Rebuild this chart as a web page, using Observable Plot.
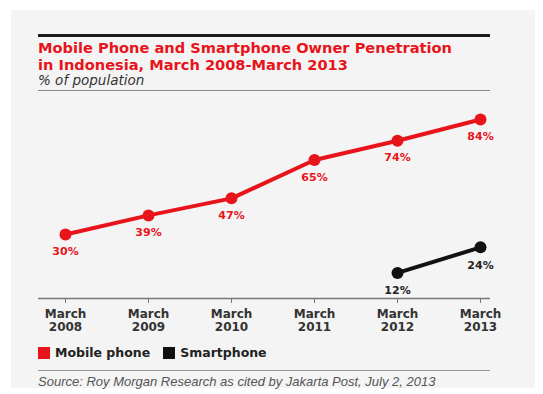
<!DOCTYPE html>
<html>
<head>
<meta charset="utf-8">
<script src="https://cdn.jsdelivr.net/npm/d3@7"></script>
<script src="https://cdn.jsdelivr.net/npm/@observablehq/plot@0.6"></script>
<style>
  html, body { margin: 0; padding: 0; background: #fff; }
  #wrap { position: relative; width: 543px; height: 394px; overflow: hidden; font-family: "DejaVu Sans", sans-serif; }
  #panel { position: absolute; left: 11px; top: 10px; width: 524px; height: 378px; background: #f4f4f4; }
  .rule { position: absolute; left: 38px; width: 452px; }
  #title { position: absolute; left: 38px; top: 39px; color: #e8141b; font-weight: bold; font-size: 14.6px; line-height: 17px; white-space: nowrap; }
  #subtitle { position: absolute; left: 38px; top: 73px; color: #333; font-style: italic; font-size: 13.5px; line-height: 15px; }
  #chart { position: absolute; left: 0; top: 99px; }
  #legend { position: absolute; left: 38px; top: 345px; font-size: 12.5px; font-weight: bold; color: #222; display: flex; align-items: center; white-space: nowrap; }
  #legend .sw { display: inline-block; width: 12px; height: 12px; margin-right: 5px; }
  #source { position: absolute; left: 38px; top: 374px; font-family: "Liberation Sans", Arial, sans-serif; font-size: 13px; font-style: italic; color: #555; white-space: nowrap; }
</style>
</head>
<body>
<div id="wrap">
  <div id="panel"></div>
  <div class="rule" style="top:34px;height:3px;background:#1a1a1a;"></div>
  <div id="title">Mobile Phone and Smartphone Owner Penetration<br>in Indonesia, March 2008-March 2013</div>
  <div id="subtitle">% of population</div>
  <div class="rule" style="top:90px;height:1px;background:#888;"></div>
  <div id="chart"></div>
  <div id="legend">
    <span class="sw" style="background:#e8141b"></span><span>Mobile phone</span>
    <span class="sw" style="background:#111;margin-left:13px"></span><span>Smartphone</span>
  </div>
  <div class="rule" style="top:370px;height:1px;background:#999;"></div>
  <div id="source">Source: Roy Morgan Research as cited by Jakarta Post, July 2, 2013</div>
</div>
<script>
const periods = ["March 2008", "March 2009", "March 2010", "March 2011", "March 2012", "March 2013"];
const mobileValues = [30, 39, 47, 65, 74, 84];
const smartPeriods = ["March 2012", "March 2013"];
const smartValues = [12, 24];

const RED = "#e8141b";
const BLACK = "#111";

const mobile = periods.map((p, i) => ({period: p, value: mobileValues[i]}));
const smart = smartPeriods.map((p, i) => ({period: p, value: smartValues[i]}));

const chart = Plot.plot({
  width: 543,
  height: 245,
  marginLeft: 38,
  marginRight: 53,
  marginTop: 20,
  marginBottom: 46,
  style: {background: "transparent", fontFamily: "'DejaVu Sans', sans-serif"},
  x: {type: "point", domain: periods, padding: 0, insetLeft: 27, insetRight: 10, label: null},
  y: {domain: [0, 84], axis: null},
  marks: [
    Plot.ruleY([0], {stroke: "#777", strokeWidth: 1.5}),
    Plot.axisX({
      tickSize: 5,
      tickPadding: 5,
      stroke: "#777",
      fontSize: 12,
      fontWeight: "bold",
      fill: "#333",
      lineHeight: 1.1,
      tickFormat: d => d.replace(" ", "\n")
    }),
    Plot.line(mobile, {x: "period", y: "value", stroke: RED, strokeWidth: 4}),
    Plot.dot(mobile, {x: "period", y: "value", r: 6, fill: RED}),
    Plot.text(mobile, {x: "period", y: "value", text: d => d.value + "%", dy: 17, fill: RED, fontSize: 11, fontWeight: "bold"}),
    Plot.line(smart, {x: "period", y: "value", stroke: BLACK, strokeWidth: 4}),
    Plot.dot(smart, {x: "period", y: "value", r: 6, fill: BLACK}),
    Plot.text(smart, {x: "period", y: "value", text: d => d.value + "%", dy: 18, fill: "#222", fontSize: 11, fontWeight: "bold"})
  ]
});
document.getElementById("chart").appendChild(chart);
</script>
</body>
</html>
